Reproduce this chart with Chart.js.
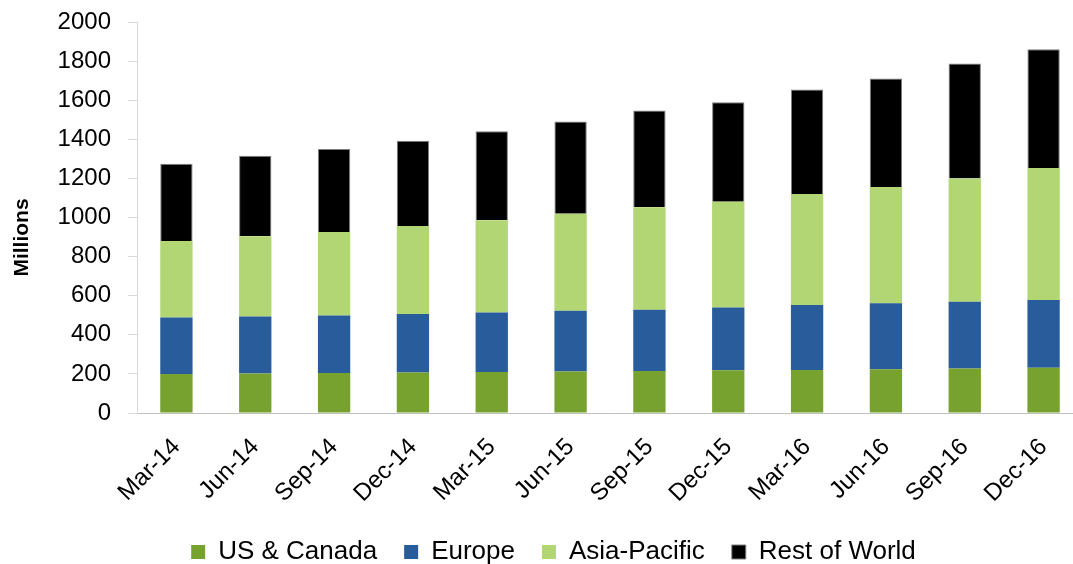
<!DOCTYPE html>
<html>
<head>
<meta charset="utf-8">
<script src="https://cdn.jsdelivr.net/npm/chart.js@4/dist/chart.umd.min.js"></script>
<style>
  html, body { margin: 0; padding: 0; background: #fff; overflow: hidden; }
  #wrap { width: 1083px; height: 564px; }
</style>
</head>
<body>
<div id="wrap"><canvas id="chart" width="1083" height="564"></canvas></div>
<script>
const quarters = ['Mar-14', 'Jun-14', 'Sep-14', 'Dec-14', 'Mar-15', 'Jun-15',
  'Sep-15', 'Dec-15', 'Mar-16', 'Jun-16', 'Sep-16', 'Dec-16'];
const usCanada = [200, 202, 205, 207, 210, 212, 215, 219, 220, 224, 227, 231];
const europe = [289, 292, 294, 299, 304, 311, 313, 321, 332, 338, 342, 347];
const asiaPacific = [391, 410, 427, 451, 472, 496, 525, 540, 568, 594, 631, 675];
const restOfWorld = [395, 412, 424, 436, 455, 472, 494, 510, 535, 555, 588, 607];
const yTicks = [0, 200, 400, 600, 800, 1000, 1200, 1400, 1600, 1800, 2000];

const font = 'Liberation Sans, Arial, sans-serif';

function ds(label, data, color, border) {
  return {
    label: label,
    data: data,
    backgroundColor: color,
    borderColor: border || color,
    borderWidth: border ? 1 : 0,
    barPercentage: 0.41,
    categoryPercentage: 1
  };
}

// y axis title sits a little below the middle of the axis, like the original
const yTitle = {
  id: 'yTitle',
  afterDraw(chart) {
    const ctx = chart.ctx;
    const area = chart.chartArea;
    ctx.save();
    ctx.translate(22, area.top + (area.bottom - area.top) / 2 + 20);
    ctx.rotate(-Math.PI / 2);
    ctx.font = 'bold 21px ' + font;
    ctx.fillStyle = '#000';
    ctx.textAlign = 'center';
    ctx.textBaseline = 'middle';
    ctx.fillText('Millions', 0, 0);
    ctx.restore();
  }
};

new Chart(document.getElementById('chart').getContext('2d'), {
  type: 'bar',
  data: {
    labels: quarters,
    datasets: [
      ds('US & Canada', usCanada, '#78A22F'),
      ds('Europe', europe, '#285C9B'),
      ds('Asia-Pacific', asiaPacific, '#B3D675'),
      ds('Rest of World', restOfWorld, '#000000', '#7f7f7f')
    ]
  },
  plugins: [yTitle],
  options: {
    responsive: false,
    animation: false,
    layout: { padding: { top: 22, right: 0, bottom: -11, left: 24 } },
    plugins: {
      tooltip: { enabled: false },
      legend: {
        position: 'bottom',
        labels: {
          boxWidth: 14,
          boxHeight: 14,
          padding: 27,
          color: '#000',
          font: { family: font, size: 26 }
        }
      }
    },
    scales: {
      x: {
        stacked: true,
        grid: { display: false },
        border: { display: true, color: '#bfbfbf', width: 1 },
        ticks: {
          color: '#000',
          font: { family: font, size: 24 },
          maxRotation: 45,
          minRotation: 45,
          padding: 12
        },
        afterFit(axis) {
          axis.height = 99;
          axis.paddingLeft = 0;
          axis.paddingRight = 0;
        }
      },
      y: {
        stacked: true,
        min: 0,
        max: 2000,
        afterBuildTicks(axis) { axis.ticks = yTicks.map(v => ({ value: v })); },
        grid: {
          drawOnChartArea: false,
          drawTicks: true,
          tickLength: 9,
          color: '#d9d9d9'
        },
        border: { display: true, color: '#d9d9d9', width: 1 },
        ticks: {
          color: '#000',
          font: { family: font, size: 24 },
          padding: 17,
          callback: v => String(v)
        },
        afterFit(axis) {
          axis.width = 113;
          axis.paddingTop = 0;
          axis.paddingBottom = 0;
        }
      }
    }
  }
});
</script>
</body>
</html>
